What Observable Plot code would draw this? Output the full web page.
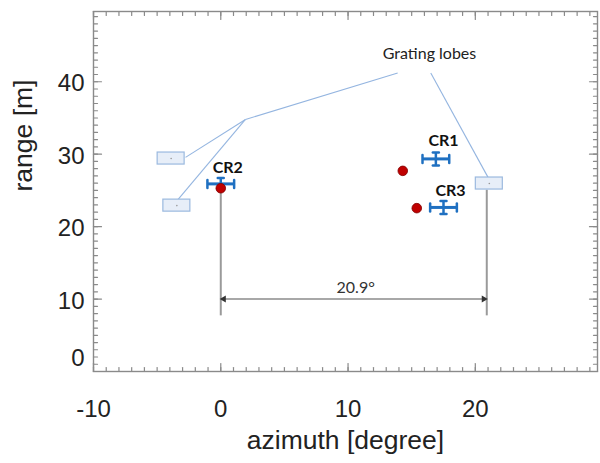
<!DOCTYPE html>
<html><head><meta charset="utf-8">
<script src="https://cdn.jsdelivr.net/npm/d3@7"></script>
<script src="https://cdn.jsdelivr.net/npm/@observablehq/plot@0.6"></script>
<style>body{margin:0;background:#fff}</style>
</head><body><div id="chart"></div>
<script>
// Corner reflectors (measured), blue crosses
const targetNames = ["CR1", "CR2", "CR3"];
const targetAz = [16.9, 0.0, 17.5];
const targetRange = [29.35, 25.9, 22.65];
const targetAzErr = [1.05, 1.05, 1.05];
const targetRangeErr = [0.9, 0.8, 0.9];
const labelAz = [17.5, 0.55, 18.05];
const labelRange = [31.8, 28.1, 24.9];
// Detected reflections, red dots
const refAz = [14.3, 0.0, 15.4];
const refRange = [27.7, 25.3, 22.55];
// Grating lobes (boxes)
const lobeAz = [-3.9, -3.45, 21.1];
const lobeRange = [29.4, 22.9, 25.95];
// Leader lines of the "Grating lobes" annotation
const leaderAz1 = [-2.77, -3.35, 1.94, 16.5];
const leaderRange1 = [29.56, 23.76, 34.8, 41.2];
const leaderAz2 = [1.94, 1.94, 13.9, 21.0];
const leaderRange2 = [34.8, 34.8, 41.2, 26.8];
const annotText = ["Grating lobes"];
const annotAz = [16.4];
const annotRange = [43.9];
// Dimension line between CR2 and the right lobe
const dimAz = [0.0, 20.9];
const dimTop = [25.3, 25.1];
const dimBottom = [7.75, 7.75];
const dimRange = [10.0];
const dimLabel = ["20.9°"];
const dimLabelAz = [10.6];
const dimLabelRange = [11.6];
// Axes
const xTicks = [-10, 0, 10, 20];
const yTicks = [0, 10, 20, 30, 40];
const xMinor = d3.range(-10, 30, 1);
const yMinor = d3.range(0, 50, 1);
const xTitle = "azimuth [degree]";
const yTitle = "range [m]";

const targets = targetNames.map((n, i) => ({name: n, az: targetAz[i], range: targetRange[i], eAz: targetAzErr[i], eR: targetRangeErr[i], lAz: labelAz[i], lR: labelRange[i]}));
const refs = refAz.map((a, i) => ({az: a, range: refRange[i]}));
const lobes = lobeAz.map((a, i) => ({az: a, range: lobeRange[i]}));
const leaders = leaderAz1.map((a, i) => ({x1: a, y1: leaderRange1[i], x2: leaderAz2[i], y2: leaderRange2[i]}));
const dims = dimAz.map((a, i) => ({az: a, top: dimTop[i], bottom: dimBottom[i]}));

const lineShape = {draw(ctx, l) { ctx.moveTo(0, 0); ctx.lineTo(0, -l); }};
const axisColor = "#8a8a8a";
const blue = "#1f70c1";
const fmt = d => String(d);

function frameTicks(values, len) {
  return [
    Plot.vector(values.x, {x: d => d, frameAnchor: "bottom", rotate: 0, length: len, anchor: "start", shape: lineShape, stroke: axisColor, strokeWidth: 1.2}),
    Plot.vector(values.x, {x: d => d, frameAnchor: "top", rotate: 180, length: len, anchor: "start", shape: lineShape, stroke: axisColor, strokeWidth: 1.2}),
    Plot.vector(values.y, {y: d => d, frameAnchor: "left", rotate: 90, length: len, anchor: "start", shape: lineShape, stroke: axisColor, strokeWidth: 1.2}),
    Plot.vector(values.y, {y: d => d, frameAnchor: "right", rotate: -90, length: len, anchor: "start", shape: lineShape, stroke: axisColor, strokeWidth: 1.2})
  ];
}

const chart = Plot.plot({
  width: 600,
  height: 463,
  marginLeft: 93,
  marginRight: 3,
  marginTop: 11,
  marginBottom: 92,
  x: {domain: [-10, 29.6]},
  y: {domain: [0, 49.7]},
  style: {fontFamily: "'Liberation Sans', Arial, sans-serif", background: "#fff", overflow: "visible"},
  marks: [
    ...frameTicks({x: xMinor, y: yMinor}, 4),
    ...frameTicks({x: xTicks, y: yTicks}, 8),
    Plot.frame({stroke: axisColor, strokeWidth: 1.4}),
    Plot.axisX(xTicks, {anchor: "bottom", tickSize: 0, tickPadding: 28, fontSize: 24, fill: "#222", tickFormat: fmt, label: null}),
    Plot.axisY(yTicks.filter(d => d !== 0), {anchor: "left", tickSize: 0, tickPadding: 9, fontSize: 24, fill: "#222", dy: 2, tickFormat: fmt, label: null}),
    Plot.axisY([0], {anchor: "left", tickSize: 0, tickPadding: 9, fontSize: 24, fill: "#222", dy: -13, tickFormat: fmt, label: null}),
    Plot.text([xTitle], {frameAnchor: "bottom", dy: 77, fontSize: 26.5, fill: "#222"}),
    Plot.text([yTitle], {frameAnchor: "left", dx: -70, rotate: -90, fontSize: 26.5, fill: "#222"}),
    // dimension line
    Plot.link(dims, {x1: "az", x2: "az", y1: "top", y2: "bottom", stroke: "#9a9a9a", strokeWidth: 2}),
    Plot.link(dimRange, {x1: dimAz[0], x2: dimAz[1], y1: d => d, y2: d => d, stroke: "#a8a8a8", strokeWidth: 2}),
    Plot.dot(dimRange, {x: dimAz[0], y: d => d, symbol: "triangle", r: 2.6, rotate: -90, dx: 3, fill: "#333"}),
    Plot.dot(dimRange, {x: dimAz[1], y: d => d, symbol: "triangle", r: 2.6, rotate: 90, dx: -3, fill: "#333"}),
    Plot.text(dimLabel, {x: dimLabelAz, y: dimLabelRange, fontFamily: "Lato, sans-serif", fontSize: 16, fill: "#333"}),
    // annotation leaders and lobes
    Plot.link(leaders, {x1: "x1", y1: "y1", x2: "x2", y2: "y2", stroke: "#94b5e0", strokeWidth: 1.1}),
    Plot.rect(lobes, {x1: d => d.az - 1.06, x2: d => d.az + 1.06, y1: d => d.range - 0.83, y2: d => d.range + 0.83, fill: "#e7eef8", stroke: "#9bb9df", strokeWidth: 1.2}),
    Plot.dot(lobes, {x: "az", y: "range", r: 0.8, fill: "#999"}),
    Plot.text(annotText, {x: annotAz, y: annotRange, fontFamily: "Lato, sans-serif", fontSize: 16, fill: "#222"}),
    // targets: error bars
    Plot.link(targets, {x1: d => d.az - d.eAz, x2: d => d.az + d.eAz, y1: "range", y2: "range", stroke: blue, strokeWidth: 3}),
    Plot.link(targets, {x1: "az", x2: "az", y1: d => d.range - d.eR, y2: d => d.range + d.eR, stroke: blue, strokeWidth: 2.5}),
    Plot.vector(targets, {x: d => d.az - d.eAz, y: "range", rotate: 0, length: 8, anchor: "middle", shape: lineShape, stroke: blue, strokeWidth: 2.5}),
    Plot.vector(targets, {x: d => d.az + d.eAz, y: "range", rotate: 0, length: 8, anchor: "middle", shape: lineShape, stroke: blue, strokeWidth: 2.5}),
    Plot.vector(targets, {x: "az", y: d => d.range - d.eR, rotate: 90, length: 6, anchor: "middle", shape: lineShape, stroke: blue, strokeWidth: 2.5}),
    Plot.vector(targets, {x: "az", y: d => d.range + d.eR, rotate: 90, length: 6, anchor: "middle", shape: lineShape, stroke: blue, strokeWidth: 2.5}),
    Plot.text(targets, {x: "lAz", y: "lR", text: "name", fontFamily: "Lato, sans-serif", fontWeight: "bold", fontSize: 16, fill: "#111"}),
    // reflections
    Plot.dot(refs, {x: "az", y: "range", r: 4.8, fill: "#c00000", stroke: "#800000", strokeWidth: 0.8})
  ]
});
document.getElementById("chart").append(chart);
</script>
</body></html>
